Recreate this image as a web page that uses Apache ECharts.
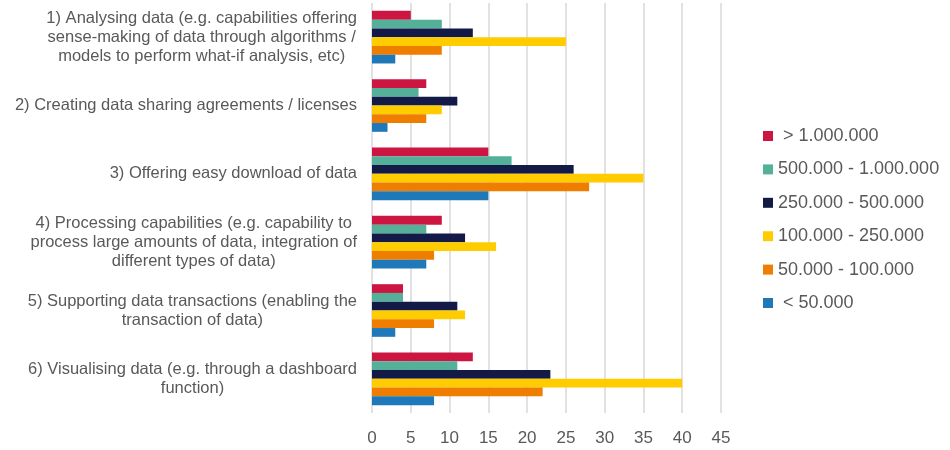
<!DOCTYPE html>
<html>
<head>
<meta charset="utf-8">
<script src="https://cdn.jsdelivr.net/npm/echarts@6/dist/echarts.min.js"></script>
<style>
  html, body { margin: 0; padding: 0; background: #fff; }
  #chart { width: 950px; height: 450px; }
</style>
</head>
<body>
<div id="chart"></div>
<script>
//  Data

var categories = [
  '1) Analysing data (e.g. capabilities offering\nsense-making of data through algorithms /\nmodels to perform what-if analysis, etc)',
  '2) Creating data sharing agreements / licenses',
  '3) Offering easy download of data',
  '4) Processing capabilities (e.g. capability to\nprocess large amounts of data, integration of\ndifferent types of data)',
  '5) Supporting data transactions (enabling the\ntransaction of data)',
  '6) Visualising data (e.g. through a dashboard\nfunction)'
];

var seriesNames = [' > 1.000.000', '500.000 - 1.000.000', '250.000 - 500.000',
  '100.000 - 250.000', '50.000 - 100.000', ' < 50.000'];

var over1m     = [5, 7, 15, 9, 4, 13];
var from500k   = [9, 6, 18, 7, 4, 11];
var from250k   = [13, 11, 26, 12, 11, 23];
var from100k   = [25, 9, 35, 16, 12, 40];
var from50k    = [9, 7, 28, 8, 8, 22];
var under50k   = [3, 2, 15, 7, 3, 8];

var xTicks = [0, 5, 10, 15, 20, 25, 30, 35, 40, 45];

var colors = ['#cc1540', '#55b09a', '#131a47', '#ffcc00', '#ef7d00', '#1f78b8'];

//  Chart

var myChart = echarts.init(document.getElementById('chart'), null, {renderer: 'canvas'});

var allValues = [over1m, from500k, from250k, from100k, from50k, under50k];
var series = [];
seriesNames.forEach(function(name, i) {
  series.push({
    name: name,
    type: 'bar',
    data: allValues[i],
    barGap: '0%',
    barCategoryGap: '23%',
    itemStyle: {color: colors[i]}
  });
});

var option = {
  animation: false,
  textStyle: {fontFamily: 'Liberation Sans, Arial, sans-serif'},
  color: colors,
  grid: {left: 372, right: 229, top: 3, bottom: 37, containLabel: false},
  legend: {
    orient: 'vertical',
    left: 763,
    top: 126,
    padding: 0,
    icon: 'rect',
    itemWidth: 10,
    itemHeight: 10,
    itemGap: 13.4,
    data: seriesNames,
    textStyle: {fontSize: 18, color: '#595959', lineHeight: 20, fontFamily: 'Liberation Sans, Arial, sans-serif'}
  },
  xAxis: {
    type: 'value',
    min: xTicks[0],
    max: xTicks[xTicks.length - 1],
    interval: 5,
    axisLine: {show: false},
    axisTick: {show: false},
    splitLine: {lineStyle: {color: '#d9d9d9', width: 1.5}},
    axisLabel: {fontSize: 17, color: '#595959', margin: 17}
  },
  yAxis: {
    type: 'category',
    data: categories,
    inverse: true,
    axisLine: {show: false},
    axisTick: {show: false},
    splitLine: {show: false},
    axisLabel: {
      margin: 15,
      color: '#595959',
      fontSize: 16.5,
      lineHeight: 19,
      formatter: function(value) {
        return value.split('\n').map(function(s) { return '{c|' + s + '}'; }).join('\n');
      },
      rich: {
        c: {align: 'center', fontSize: 16.5, lineHeight: 19, color: '#595959'}
      }
    }
  },
  series: series
};

myChart.setOption(option);
</script>
</body>
</html>
